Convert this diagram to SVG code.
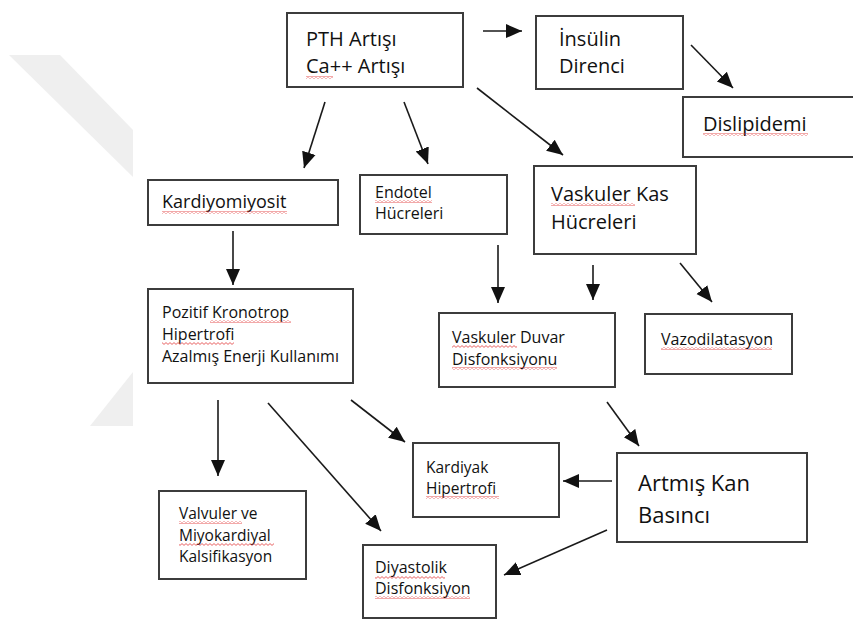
<svg xmlns="http://www.w3.org/2000/svg" width="853" height="628" viewBox="0 0 853 628">
<style>
.box{fill:#fff;stroke:#3c3c3c;stroke-width:2}
.t{font-family:"Open Sans","Liberation Sans",sans-serif;fill:#111}
.s20{font-size:20px}.s18{font-size:18px}.s16{font-size:16px}.s155{font-size:15.5px}.s22{font-size:22px}
.c{stroke:#1a1a1a;stroke-width:1.6;fill:none;marker-end:url(#ah)}
.sq{fill:url(#wavy)}
.wm{fill:#efefef}
</style>
<defs>
<marker id="ah" markerUnits="userSpaceOnUse" viewBox="0 0 16 16" refX="16" refY="8" markerWidth="16" markerHeight="16" orient="auto">
<path d="M0,1 L16,8 L0,15 z" fill="#111"/>
</marker>
<pattern id="wavy" patternUnits="userSpaceOnUse" width="4" height="3">
<path d="M0,2.4 L2,0.6 L4,2.4" fill="none" stroke="#e23b3b" stroke-width="0.8"/>
</pattern>
</defs>
<rect width="853" height="628" fill="#fff"/>
<g id="watermark">
<polygon class="wm" points="9,55 60,55 133,130 133,177"/>
<polygon class="wm" points="90,426 133,372 133,426"/>
</g>
<g id="connectors">
<line class="c" x1="483" y1="31" x2="522" y2="31"/>
<line class="c" x1="691" y1="45" x2="733" y2="88"/>
<line class="c" x1="477" y1="88" x2="563" y2="155"/>
<line class="c" x1="325" y1="102" x2="304" y2="168"/>
<line class="c" x1="404" y1="102" x2="428" y2="164"/>
<line class="c" x1="233" y1="231" x2="233" y2="285"/>
<line class="c" x1="498" y1="245" x2="498" y2="303"/>
<line class="c" x1="593" y1="265" x2="593" y2="300"/>
<line class="c" x1="680" y1="263" x2="712" y2="302"/>
<line class="c" x1="218" y1="400" x2="218" y2="476"/>
<line class="c" x1="268" y1="403" x2="381" y2="531"/>
<line class="c" x1="351" y1="400" x2="405" y2="442"/>
<line class="c" x1="607" y1="402" x2="639" y2="446"/>
<line class="c" x1="612" y1="481" x2="563" y2="481"/>
<line class="c" x1="607" y1="530" x2="504" y2="575"/>
</g>
<g id="pth">
<rect class="box" x="287" y="13" width="176" height="74"/>
<text class="t s20" x="306" y="46">PTH Artışı</text>
<text class="t s20" x="306" y="73">Ca++ Artışı</text>
<rect class="sq" x="306" y="76" width="27" height="3"/>
</g>
<g id="insulin">
<rect class="box" x="536" y="16" width="147" height="73"/>
<text class="t s20" x="559" y="46">İnsülin</text>
<text class="t s20" x="559" y="73">Direnci</text>
</g>
<g id="dislipidemi">
<rect class="box" x="683" y="97" width="175" height="60"/>
<text class="t s20" x="703" y="131">Dislipidemi</text>
<rect class="sq" x="703" y="133" width="105" height="3"/>
</g>
<g id="kardiyomiyosit">
<rect class="box" x="148" y="180" width="190" height="45"/>
<text class="t s18" x="162" y="208">Kardiyomiyosit</text>
<rect class="sq" x="162" y="211" width="125" height="3"/>
</g>
<g id="endotel">
<rect class="box" x="360" y="175" width="147" height="59"/>
<text class="t s16" x="375" y="198">Endotel</text>
<text class="t s16" x="375" y="219">Hücreleri</text>
<rect class="sq" x="375" y="200" width="57" height="3"/>
</g>
<g id="vaskuler-kas">
<rect class="box" x="534" y="166" width="162" height="88"/>
<text class="t s20" x="551" y="201">Vaskuler Kas</text>
<text class="t s20" x="551" y="229">Hücreleri</text>
<rect class="sq" x="551" y="203" width="84" height="3"/>
</g>
<g id="pozitif">
<rect class="box" x="148" y="289" width="205" height="94"/>
<text class="t s16" x="162" y="318">Pozitif Kronotrop</text>
<text class="t s16" x="162" y="340">Hipertrofi</text>
<text class="t s16" x="162" y="362">Azalmış Enerji Kullanımı</text>
<rect class="sq" x="210" y="320" width="81" height="3"/>
<rect class="sq" x="162" y="342" width="72" height="3"/>
</g>
<g id="vaskuler-duvar">
<rect class="box" x="439" y="313" width="176" height="74"/>
<text class="t s16" x="452" y="343">Vaskuler Duvar</text>
<text class="t s16" x="452" y="365">Disfonksiyonu</text>
<rect class="sq" x="452" y="345" width="65" height="3"/>
<rect class="sq" x="452" y="367" width="105" height="3"/>
</g>
<g id="vazodilatasyon">
<rect class="box" x="645" y="314" width="147" height="60"/>
<text class="t s16" x="661" y="345">Vazodilatasyon</text>
<rect class="sq" x="661" y="347" width="111" height="3"/>
</g>
<g id="kardiyak">
<rect class="box" x="413" y="443" width="146" height="74"/>
<text class="t s155" x="426" y="473">Kardiyak</text>
<text class="t s155" x="426" y="494">Hipertrofi</text>
<rect class="sq" x="426" y="496" width="73" height="3"/>
</g>
<g id="artmis">
<rect class="box" x="617" y="453" width="190" height="89"/>
<text class="t s22" x="638" y="491">Artmış Kan</text>
<text class="t s22" x="638" y="523">Basıncı</text>
</g>
<g id="valvuler">
<rect class="box" x="159" y="491" width="147" height="88"/>
<text class="t s155" x="179" y="519">Valvuler ve</text>
<text class="t s155" x="179" y="541">Miyokardiyal</text>
<text class="t s155" x="179" y="562">Kalsifikasyon</text>
<rect class="sq" x="179" y="521" width="63" height="3"/>
<rect class="sq" x="179" y="543" width="95" height="3"/>
</g>
<g id="diyastolik">
<rect class="box" x="363" y="545" width="133" height="73"/>
<text class="t s16" x="375" y="573">Diyastolik</text>
<text class="t s16" x="375" y="594">Disfonksiyon</text>
<rect class="sq" x="375" y="576" width="70" height="3"/>
<rect class="sq" x="375" y="596" width="95" height="3"/>
</g>
</svg>
